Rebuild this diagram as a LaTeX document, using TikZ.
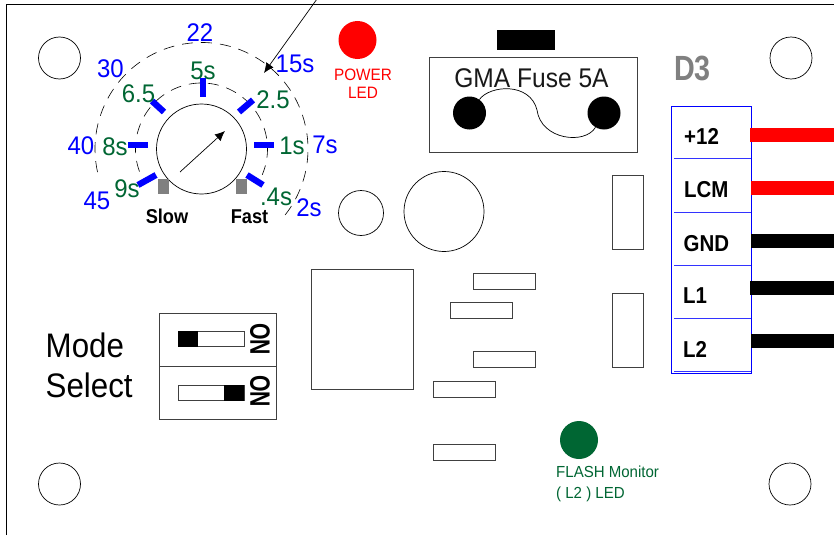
\documentclass[tikz,border=0pt]{standalone}
\usepackage{graphicx}
\usepackage{fontspec}
\setmainfont{Liberation Sans}
\usetikzlibrary{arrows.meta}
\definecolor{dgreen}{RGB}{0,102,51}
\definecolor{dblue}{RGB}{0,0,255}
\newcommand{\narrowtxt}[2]{\scalebox{#1}[1]{#2}}
\newcommand{\dl}[1]{\narrowtxt{.94}{#1}}
\newcommand{\tm}[1]{\narrowtxt{.89}{#1}}
\tikzset{
  hole/.style={circle,draw=black,line width=0.7pt,minimum size=#1,inner sep=0pt},
  part/.style={draw=black!75,line width=0.7pt,fill=white,inner sep=0pt},
  tick/.style={dblue,line width=6.3pt},
  wire/.style={line width=14.5pt},
  bl/.style={text=dblue,font=\fontsize{25.5}{25.5}\selectfont,inner sep=0pt},
  gr/.style={text=dgreen,font=\fontsize{25.5}{25.5}\selectfont,inner sep=0pt},
  term/.style={font=\bfseries\fontsize{23}{23}\selectfont,inner sep=0pt,anchor=west},
  arr/.style={-{Latex[length=10pt,width=9pt]},line width=0.7pt},
  dsh/.style={line width=0.6pt,dash pattern=on 11pt off 8pt}
}
\begin{document}
\begin{tikzpicture}[x=1pt,y=-1pt]
\useasboundingbox (0,0) rectangle (834,535);
\fill[white] (0,0) rectangle (834,535);
\draw[line width=0.7pt] (6,535) -- (6,4) -- (834,4);
% mounting holes
\node[hole=42pt] (h1) at (59.5,58) {};
\node[hole=42pt] (h2) at (791,58) {};
\node[hole=42pt] (h3) at (59.5,484) {};
\node[hole=42pt] (h4) at (790,484) {};
% dial
\draw[dsh] (201.5,149) ++(167.5:106.5) arc[start angle=167.5,end angle=399.5,radius=106.5];
\draw[dsh] (201.5,149) ++(160:66) arc[start angle=160,end angle=383,radius=66];
\node[hole=90pt,fill=white] (dial) at (201.5,149) {};
\draw[tick] (203,78) -- (203,97);
\draw[tick] (254,145) -- (274,145);
\draw[tick] (128,145) -- (148,145);
\draw[tick] (152,101) -- (164,112);
\draw[tick] (239,112) -- (253,100);
\draw[tick] (138,185) -- (156,175);
\draw[tick] (247,175) -- (263,185);
\fill[black!50] (158,179) rectangle (169,194);
\fill[black!50] (236,179) rectangle (247,194);
\coordinate (pa) at (180,172);
\coordinate (pb) at (225,131);
\draw[arr] (pa) -- (pb);
\coordinate (ta) at (317,-1);
\coordinate (tb) at (264,73);
\draw[arr] (ta) -- (tb);
\node[bl] (t22) at (200,33) {\dl{22}};
\node[bl] (t30) at (110.5,69) {\dl{30}};
\node[bl] (t15) at (295,64) {\dl{15s}};
\node[bl] (t40) at (81,146) {\dl{40}};
\node[bl] (t7) at (325,145) {\dl{7s}};
\node[bl] (t45) at (97,201) {\dl{45}};
\node[bl] (t2) at (309,208) {\dl{2s}};
\node[gr] (g5) at (203,71) {\dl{5s}};
\node[gr] (g65) at (138.5,94) {\dl{6.5}};
\node[gr] (g25) at (273,100) {\dl{2.5}};
\node[gr] (g8) at (115,147) {\dl{8s}};
\node[gr] (g1) at (292,146) {\dl{1s}};
\node[gr] (g9) at (127,189) {\dl{9s}};
\node[gr] (g4) at (276,197) {\dl{.4s}};
\node[font=\bfseries\fontsize{20}{20}\selectfont,inner sep=0pt] (slow) at (167,216) {\narrowtxt{.91}{Slow}};
\node[font=\bfseries\fontsize{20}{20}\selectfont,inner sep=0pt] (fast) at (249.5,217) {\narrowtxt{.91}{Fast}};
% power led
\node[circle,fill=red,minimum size=38pt,inner sep=0pt] (pled) at (357.5,40) {};
\node[text=red,font=\fontsize{16.5}{18}\selectfont,align=center,inner sep=0pt] (pt) at (363,83.5) {\narrowtxt{.93}{POWER}\\\narrowtxt{.93}{LED}};
% fuse
\fill[black] (497,30) rectangle (555,50);
\node[part,minimum width=208pt,minimum height=95pt,anchor=north west] (fuse) at (428.5,57) {};
\node[font=\fontsize{27}{27}\selectfont,inner sep=0pt,text=black!90] (ft) at (531.5,78) {\narrowtxt{.91}{GMA Fuse 5A}};
\node[circle,fill=black,minimum size=33pt,inner sep=0pt] (f1) at (469.5,113) {};
\node[circle,fill=black,minimum size=33pt,inner sep=0pt] (f2) at (604,113) {};
\draw[line width=0.7pt] (f1) .. controls (490,85) and (530,82) .. (537,110) .. controls (541,140) and (585,145) .. (f2);
% D3
\node[text=black!50,font=\bfseries\fontsize{35}{35}\selectfont,inner sep=0pt] (d3) at (692.5,68) {\narrowtxt{.82}{D3}};
% terminal block
\node[draw=dblue,line width=0.7pt,minimum width=80pt,minimum height=267pt,anchor=north west,inner sep=0pt] (tb1) at (671,105.5) {};
\foreach \y in {158.5,212,265,318,371}{\draw[dblue!80,line width=0.7pt] (674,\y) -- (751,\y);}
\coordinate (w1) at (750,135); \coordinate (w1e) at (834,135);
\coordinate (w2) at (751,188); \coordinate (w2e) at (834,188);
\coordinate (w3) at (751,241); \coordinate (w3e) at (834,241);
\coordinate (w4) at (750,288); \coordinate (w4e) at (834,288);
\coordinate (w5) at (751,341); \coordinate (w5e) at (834,341);
\draw[wire,red] (w1) -- (w1e);
\draw[wire,red] (w2) -- (w2e);
\draw[wire] (w3) -- (w3e);
\draw[wire] (w4) -- (w4e);
\draw[wire] (w5) -- (w5e);
\node[term] (n1) at (684,136) {\tm{+12}};
\node[term] (n2) at (684,189.5) {\tm{LCM}};
\node[term] (n3) at (683.5,243.5) {\tm{GND}};
\node[term] (n4) at (683,296) {\tm{L1}};
\node[term] (n5) at (683,349.5) {\tm{L2}};
% circles
\node[hole=45pt] (c1) at (361,213) {};
\node[hole=80pt] (c2) at (444,211.5) {};
% components
\node[part,minimum width=31pt,minimum height=74pt,anchor=north west] (r1) at (612,175) {};
\node[part,minimum width=31pt,minimum height=74pt,anchor=north west] (r2) at (612,293) {};
\node[part,minimum width=102pt,minimum height=120pt,anchor=north west] (big) at (311,269) {};
\node[part,minimum width=62pt,minimum height=16pt,anchor=north west] (p1) at (472.5,273) {};
\node[part,minimum width=62pt,minimum height=16pt,anchor=north west] (p2) at (449.5,302) {};
\node[part,minimum width=62pt,minimum height=16pt,anchor=north west] (p3) at (472.5,351) {};
\node[part,minimum width=62pt,minimum height=16pt,anchor=north west] (p4) at (433,381) {};
\node[part,minimum width=62pt,minimum height=16pt,anchor=north west] (p5) at (433,444) {};
% switches
\node[font=\fontsize{34}{34}\selectfont,inner sep=0pt,anchor=west] (ms1) at (45.5,345.5) {\narrowtxt{.92}{Mode}};
\node[font=\fontsize{34}{34}\selectfont,inner sep=0pt,anchor=west] (ms2) at (45.5,385.5) {\narrowtxt{.92}{Select}};
\node[part,minimum width=117pt,minimum height=53pt,anchor=north west] (s1) at (159,313) {};
\node[part,minimum width=117pt,minimum height=53pt,anchor=north west] (s2) at (159,366) {};
\node[part,minimum width=66pt,minimum height=15pt,anchor=north west] (k1) at (178,331) {};
\node[part,minimum width=66pt,minimum height=15pt,anchor=north west] (k2) at (178,385) {};
\fill[black] (178,331) rectangle (198,346.5);
\fill[black] (224,384.5) rectangle (244,400.5);
\node[rotate=-90,font=\bfseries\fontsize{28}{28}\selectfont,inner sep=0pt] (on1) at (260,339) {\narrowtxt{.76}{ON}};
\node[rotate=-90,font=\bfseries\fontsize{28}{28}\selectfont,inner sep=0pt] (on2) at (260,391) {\narrowtxt{.76}{ON}};
% flash led
\node[circle,fill=dgreen,minimum size=38pt,inner sep=0pt] (fled) at (579,440) {};
\node[text=dgreen,font=\fontsize{16}{21}\selectfont,align=left,inner sep=0pt,anchor=north west] (fl) at (556,466) {\narrowtxt{.94}{FLASH Monitor}\\\narrowtxt{.94}{( L2 ) LED}};
\end{tikzpicture}
\end{document}
